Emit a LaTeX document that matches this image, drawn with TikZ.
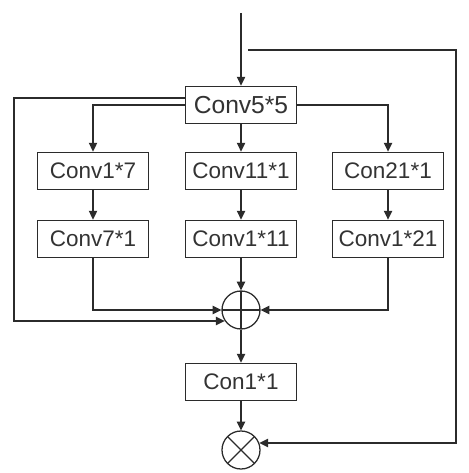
\documentclass[tikz,border=0pt]{standalone}
\usepackage{fontspec}
\setmainfont{Liberation Sans}
\usetikzlibrary{arrows.meta,calc}
\definecolor{Ink}{HTML}{2B2B2B}
\definecolor{Txt}{HTML}{333333}
\tikzset{
 box/.style={draw=Ink, line width=0.9pt, fill=white, minimum width=2.78cm, minimum height=0.94cm, inner sep=2pt, text=Txt, font=\fontsize{16}{18}\selectfont},
 bigbox/.style={box, font=\fontsize{17.5}{20}\selectfont},
 oplus/.style={circle, draw=Ink, line width=0.9pt, minimum size=0.95cm, inner sep=0pt, path picture={\draw[Ink,line width=0.8pt] (path picture bounding box.north)--(path picture bounding box.south) (path picture bounding box.west)--(path picture bounding box.east);}},
 otimes/.style={circle, draw=Ink, line width=0.9pt, minimum size=0.95cm, inner sep=0pt, path picture={\draw[Ink,line width=0.8pt] (path picture bounding box.north west)--(path picture bounding box.south east) (path picture bounding box.north east)--(path picture bounding box.south west);}},
 arr/.style={-{Triangle[length=0.22cm,width=0.21cm]}, draw=Ink, line width=0.85pt}
}
\begin{document}
\begin{tikzpicture}[x=0.025cm,y=-0.025cm]
\useasboundingbox (0,0) rectangle (468,473);
\node[bigbox] (c55) at (241,105) {Conv5*5};
\node[box] (c17) at (93,171) {Conv1*7};
\node[box] (c111) at (241,171) {Conv11*1};
\node[box] (c211) at (388,171) {Con21*1};
\node[box] (c71) at (93,239) {Conv7*1};
\node[box] (c1x11) at (241,239) {Conv1*11};
\node[box] (c1x21) at (388,239) {Conv1*21};
\node[oplus] (plus) at (241,310) {};
\node[box] (c11) at (241,382) {Con1*1};
\node[otimes] (times) at (241,450) {};
\coordinate (in) at (241,13);
\coordinate (skip) at (248,50);
\coordinate (rc) at (456,443);
\coordinate (lc) at (14,321);
\draw[arr] (in) -- (c55.north);
\draw[arr] (c55.west) -| (c17.north);
\draw[arr] (c55.south) -- (c111.north);
\draw[arr] (c55.east) -| (c211.north);
\draw[arr] (c17) -- (c71);
\draw[arr] (c111) -- (c1x11);
\draw[arr] (c211) -- (c1x21);
\draw[arr] (c71.south) |- (plus.west);
\draw[arr] (c1x11.south) -- (plus.north);
\draw[arr] (c1x21.south) |- (plus.east);
\draw[arr] ([yshift=0.175cm]c55.west) -| (lc) -- (lc -| plus.214);
\draw[arr] (plus.south) -- (c11.north);
\draw[arr] (c11.south) -- (times.north);
\draw[arr] (skip) -| (rc) -- (rc -| times.22);
\end{tikzpicture}
\end{document}
